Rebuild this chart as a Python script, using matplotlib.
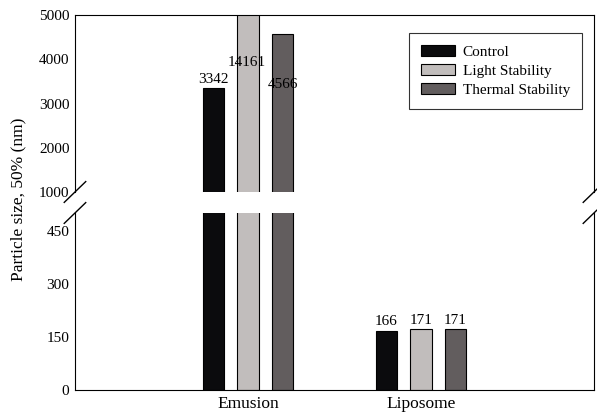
import matplotlib
matplotlib.use("Agg")
import matplotlib.pyplot as plt
import numpy as np

plt.rcParams['font.family'] = ['Liberation Serif', 'DejaVu Serif']

# data
groups = ['Emusion', 'Liposome']
series = ['Control', 'Light Stability', 'Thermal Stability']
values = {
    'Control': [3342, 166],
    'Light Stability': [14161, 171],
    'Thermal Stability': [4566, 171],
}
colors = ['#0b0b0d', '#c1bdbc', '#625d5e']
upper_ticks = [1000, 2000, 3000, 4000, 5000]
lower_ticks = [0, 150, 300, 450]

x = np.arange(len(groups))
width = 0.125
offsets = [-0.2, 0, 0.2]

fig = plt.figure(figsize=(5.97, 4.16), dpi=100)
ax_top = fig.add_axes([0.1256, 0.5385, 0.8693, 0.4254])
ax_bot = fig.add_axes([0.1256, 0.0625, 0.8693, 0.4255])

for ax in (ax_top, ax_bot):
    for name, off, col in zip(series, offsets, colors):
        ax.bar(x + off, values[name], width, color=col, edgecolor='black',
               linewidth=0.8, label=name)
    ax.set_xlim(-1, 2)
    ax.tick_params(length=0, labelsize=11, pad=4)

ax_top.set_ylim(1000, 5000)
ax_top.set_yticks(upper_ticks)
ax_top.set_xticks([])
ax_top.spines['bottom'].set_visible(False)

ax_bot.set_ylim(0, 500)
ax_bot.set_yticks(lower_ticks)
ax_bot.set_xticks(x)
ax_bot.set_xticklabels(groups, fontsize=12.5)
ax_bot.spines['top'].set_visible(False)

# value labels (emulsion ones placed by hand, as in the original)
ax_top.text(x[0] + offsets[0], values['Control'][0] + 60, '3342', ha='center', va='bottom', fontsize=11)
ax_top.text(x[0] + offsets[1] - 0.01, 3780, '14161', ha='center', va='bottom', fontsize=11)
ax_top.text(x[0] + offsets[2], 3280, '4566', ha='center', va='bottom', fontsize=11)
for name, off in zip(series, offsets):
    ax_bot.text(x[1] + off, values[name][1] + 8, str(values[name][1]),
                ha='center', va='bottom', fontsize=11)

# break marks
for xf in (0.1256, 0.1256 + 0.8693):
    for yf in (0.5385, 0.488):
        fig.add_artist(plt.Line2D([xf - 0.018, xf + 0.018], [yf - 0.025, yf + 0.025],
                                  color='black', lw=1, transform=fig.transFigure))

fig.text(0.03, 0.52, 'Particle size, 50% (nm)', rotation=90, ha='center', va='center', fontsize=12.5)

leg = ax_top.legend(loc='upper right', bbox_to_anchor=(0.977, 0.898), borderaxespad=0,
                    fontsize=11, frameon=True, fancybox=False, edgecolor='black',
                    handlelength=2.2, handleheight=0.7, handletextpad=0.5,
                    borderpad=0.8, labelspacing=0.35)
leg.get_frame().set_linewidth(0.8)

fig.savefig('out.png', dpi=100)
